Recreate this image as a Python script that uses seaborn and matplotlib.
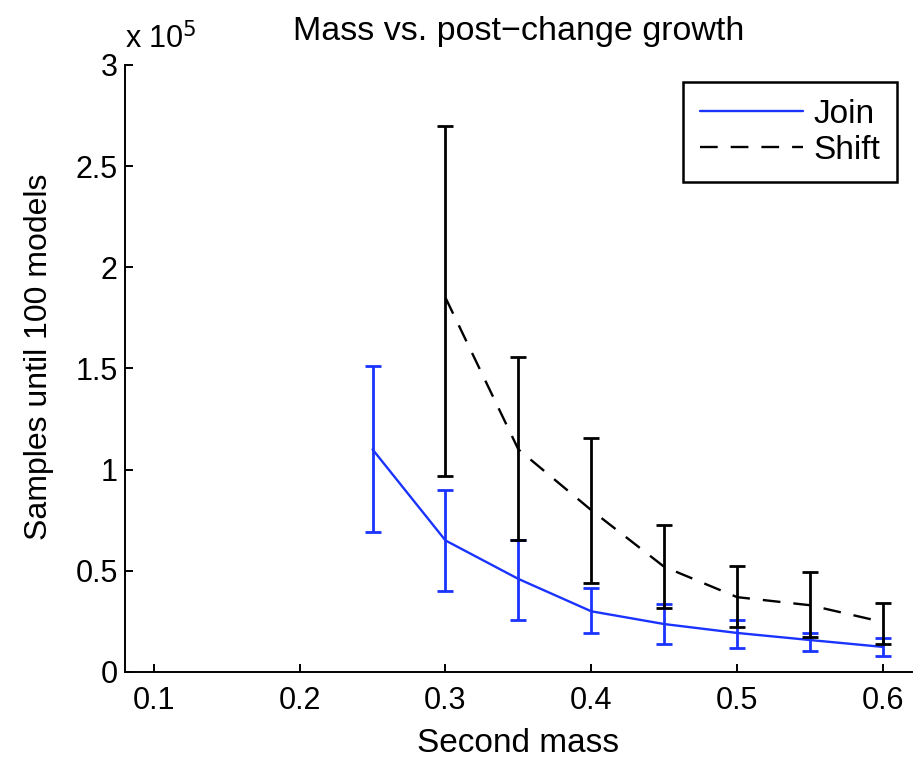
import matplotlib
matplotlib.use("Agg")
import matplotlib.pyplot as plt
import seaborn as sns
import pandas as pd
import numpy as np

# Data (samples in units of 1e5)
join_mass = [0.25, 0.30, 0.35, 0.40, 0.45, 0.50, 0.55, 0.60]
join_mean = [1.10, 0.65, 0.46, 0.30, 0.237, 0.193, 0.158, 0.124]
join_low = [0.69, 0.40, 0.257, 0.193, 0.138, 0.119, 0.104, 0.079]
join_high = [1.51, 0.90, 0.65, 0.415, 0.336, 0.257, 0.193, 0.168]

shift_mass = [0.30, 0.35, 0.40, 0.45, 0.50, 0.55, 0.60]
shift_mean = [1.85, 1.10, 0.80, 0.52, 0.37, 0.33, 0.247]
shift_low = [0.97, 0.65, 0.44, 0.316, 0.222, 0.173, 0.138]
shift_high = [2.70, 1.557, 1.157, 0.727, 0.524, 0.494, 0.341]

x_ticks = [0.1, 0.2, 0.3, 0.4, 0.5, 0.6]
y_ticks = [0, 0.5, 1, 1.5, 2, 2.5, 3]

sns.set_style("white")
plt.rcParams['font.family'] = ['Liberation Sans', 'DejaVu Sans']
plt.rcParams['text.color'] = 'black'
plt.rcParams['axes.labelcolor'] = 'black'
plt.rcParams['xtick.color'] = 'black'
plt.rcParams['ytick.color'] = 'black'

fig = plt.figure(figsize=(9.24, 7.6), dpi=100)
ax = fig.add_axes([0.135, 0.1158, 0.852, 0.7987])

blue = "#1a33ff"
df_j = pd.DataFrame({"x": join_mass, "y": join_mean})
df_s = pd.DataFrame({"x": shift_mass, "y": shift_mean})

sns.lineplot(data=df_j, x="x", y="y", ax=ax, color=blue, lw=1.7, label="Join")
sns.lineplot(data=df_s, x="x", y="y", ax=ax, color="black", lw=1.7,
             dashes=False, label="Shift")
ax.lines[-1].set_dashes([7.5, 5.5])

jm = np.array(join_mean)
ax.errorbar(join_mass, join_mean,
            yerr=[jm - np.array(join_low), np.array(join_high) - jm],
            fmt="none", ecolor=blue, elinewidth=2, capsize=5.6, capthick=2)
sm = np.array(shift_mean)
ax.errorbar(shift_mass, shift_mean,
            yerr=[sm - np.array(shift_low), np.array(shift_high) - sm],
            fmt="none", ecolor="black", elinewidth=2, capsize=5.6, capthick=2)

ax.set_xlim(0.08, 0.62)
ax.set_ylim(0, 3)
ax.set_xticks(x_ticks)
ax.set_xticklabels([f"{t:g}" for t in x_ticks])
ax.set_yticks(y_ticks)
ax.set_yticklabels([f"{t:g}" for t in y_ticks])

for s in ["top", "right"]:
    ax.spines[s].set_visible(False)
for s in ["left", "bottom"]:
    ax.spines[s].set_color("black")
    ax.spines[s].set_linewidth(1.4)

ax.tick_params(direction="in", length=6, width=1.4, labelsize=22,
               left=True, bottom=True, colors="black")
ax.tick_params(axis="y", pad=5)
ax.tick_params(axis="x", pad=10)

ax.set_xlabel("Second mass", fontsize=24, labelpad=9, color="black")
ax.set_ylabel("Samples until 100 models", fontsize=23, color="black")
ax.yaxis.set_label_coords(-0.09, 0.52)
ax.set_title("Mass vs. post\u2212change growth", fontsize=24.5, pad=18, x=0.5,
             color="black")
ax.text(0.0, 1.015, "x 10$^{5}$", transform=ax.transAxes, fontsize=22,
        ha="left", va="bottom", color="black")

leg = ax.legend(loc="upper right", fontsize=24, frameon=True, fancybox=False,
                edgecolor="black", framealpha=1, handlelength=3.1,
                borderpad=0.5, labelspacing=0.15, handletextpad=0.3,
                borderaxespad=0, bbox_to_anchor=(0.981, 0.972))
leg.get_frame().set_linewidth(1.8)
for t in leg.get_texts():
    t.set_color("black")

fig.savefig("out.png", dpi=100)
